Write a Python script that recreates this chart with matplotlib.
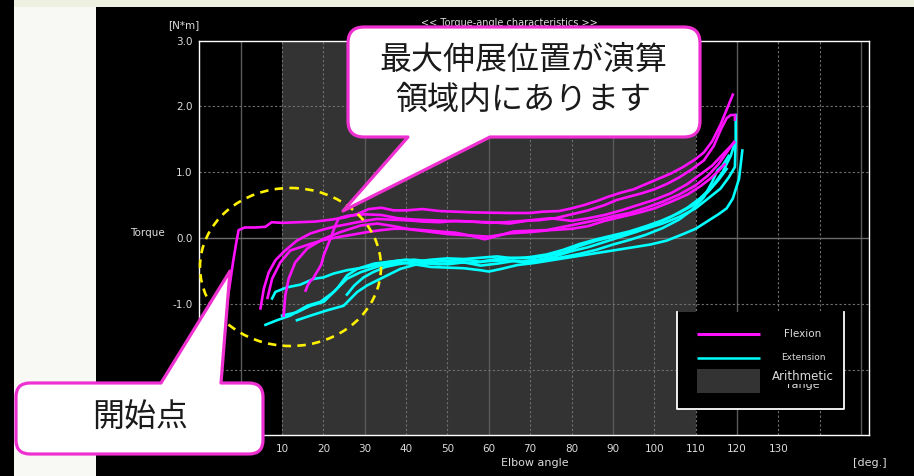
import matplotlib
matplotlib.use("Agg")
import matplotlib.pyplot as plt
from matplotlib.path import Path
from matplotlib.patches import PathPatch, Rectangle, Ellipse

# elbow angle [deg] / torque [N*m], flexion sweeps
flexion_deg = [
    [-3.5, -2.6, -1.8, -1.0, -0.5, 1.0, 3.5, 6.0, 7.5, 10, 14, 18, 22, 25, 28, 31, 34, 37, 40, 44,
     48, 52, 56, 60, 65, 70, 73, 77, 80, 83, 86, 89, 92, 95, 98, 101, 104, 107, 110, 112, 114,
     116, 117.5, 119],
    [4.8, 5.2, 5.6, 6.8, 8.4, 10.4, 13.6, 16.9, 20, 22.5, 25, 28.2, 31, 33, 36, 40, 44, 48, 52,
     56, 60, 64, 68, 72, 76, 80, 84, 88, 91, 94, 97, 100, 103, 106, 109, 112, 114.4, 116.1,
     117.5, 118.5, 119.6, 119.5],
    [6.5, 7.6, 9.6, 12, 16.9, 20, 24.1, 27, 30.6, 34, 37, 40, 44, 48, 52, 56, 59, 62, 66, 70, 74,
     78, 82, 86, 90, 94, 98, 102, 106, 110, 113, 115.5, 117.5, 119.3],
    [10.4, 10.8, 11.6, 13.2, 16.1, 20.1, 24.1, 29, 33, 37, 41, 45, 50, 55, 60, 65, 70, 75, 80, 84,
     88, 92, 96, 100, 104, 108, 111, 113.5, 115.5, 117],
    [15.7, 16.2, 16.9, 17.5, 18.3, 18.9, 19.5, 20.1, 21.7, 22.9, 23.7, 26, 30, 34, 38, 42, 46, 50,
     55, 60, 65, 70, 75, 80, 84, 88, 92, 96, 100, 104, 108, 111, 114, 117, 119.3],
]
flexion_nm = [
    [-1.05, -0.7, -0.35, -0.05, 0.12, 0.16, 0.16, 0.17, 0.24, 0.23, 0.24, 0.25, 0.28, 0.31, 0.36,
     0.44, 0.46, 0.42, 0.42, 0.44, 0.41, 0.40, 0.39, 0.385, 0.38, 0.38, 0.40, 0.41, 0.45, 0.50,
     0.56, 0.63, 0.69, 0.74, 0.82, 0.90, 0.98, 1.08, 1.20, 1.30, 1.47, 1.72, 1.95, 2.18],
    [-1.07, -0.92, -0.77, -0.52, -0.34, -0.21, -0.04, 0.07, 0.13, 0.17, 0.20, 0.24, 0.27, 0.29,
     0.28, 0.27, 0.25, 0.24, 0.26, 0.25, 0.23, 0.24, 0.26, 0.27, 0.30, 0.36, 0.42, 0.50, 0.58,
     0.63, 0.68, 0.74, 0.82, 0.92, 1.04, 1.18, 1.40, 1.65, 1.82, 1.87, 1.87, 1.80],
    [-0.91, -0.62, -0.37, -0.19, -0.09, -0.03, 0.02, 0.05, 0.09, 0.12, 0.14, 0.14, 0.12, 0.10,
     0.08, 0.03, -0.02, 0.03, 0.10, 0.11, 0.12, 0.17, 0.22, 0.27, 0.33, 0.38, 0.46, 0.55, 0.66,
     0.80, 0.95, 1.12, 1.30, 1.46],
    [-1.18, -0.87, -0.62, -0.37, -0.16, -0.01, 0.09, 0.19, 0.22, 0.18, 0.13, 0.10, 0.06, 0.04,
     0.02, 0.07, 0.09, 0.12, 0.14, 0.18, 0.26, 0.32, 0.38, 0.45, 0.55, 0.66, 0.78, 0.90, 1.02,
     1.12],
    [-0.80, -0.72, -0.65, -0.62, -0.53, -0.47, -0.40, -0.26, -0.01, 0.19, 0.30, 0.34, 0.36, 0.35,
     0.30, 0.28, 0.27, 0.26, 0.25, 0.24, 0.22, 0.27, 0.30, 0.26, 0.30, 0.35, 0.42, 0.50, 0.58,
     0.68, 0.82, 0.96, 1.10, 1.30, 1.45],
]

# extension sweeps
extension_deg = [
    [7.6, 8.4, 11.2, 14.4, 17.7, 20, 22.5, 25.7, 30.6, 35.4, 38.6, 42, 46, 50, 54, 58, 62, 66, 70,
     74, 78, 82, 86, 90, 94, 98, 102, 106, 110, 113, 116, 118, 119.5, 119.7, 119.7],
    [6.0, 8.8, 12.0, 16.1, 19.3, 22.5, 25.7, 29, 33.8, 38.6, 42, 46, 50, 54, 58, 60, 63, 67, 71,
     75, 79, 83, 87, 91, 95, 99, 103, 107, 110, 113, 115.5, 117.5, 119, 120.5, 121.3],
    [10.0, 13.6, 16.9, 20.1, 23.3, 25.7, 28.2, 32.2, 36, 40, 44, 48, 52, 56, 60, 64, 68, 72, 76,
     80, 84, 88, 92, 96, 100, 104, 108, 111, 114, 116.5, 118.5, 119.5],
    [13.6, 16.9, 20.9, 24.9, 28.2, 30.6, 33.8, 38.6, 42, 46, 50, 54, 58, 62, 66, 70, 74, 78, 82,
     86, 90, 94, 98, 102, 106, 109, 112, 114, 115.3, 116.5, 118],
    [25.7, 27.5, 29.7, 32, 35, 38, 42, 46, 50, 54, 58, 62, 66, 70, 74, 78, 82, 86, 90, 94, 98, 102,
     106, 110, 113, 115.5, 117.5],
]
extension_nm = [
    [-0.92, -0.82, -0.75, -0.71, -0.62, -0.60, -0.54, -0.49, -0.44, -0.37, -0.34, -0.33, -0.36,
     -0.35, -0.33, -0.36, -0.32, -0.30, -0.31, -0.27, -0.22, -0.12, -0.04, 0.02, 0.08, 0.14, 0.22,
     0.32, 0.45, 0.60, 0.75, 0.92, 1.08, 1.50, 1.87],
    [-1.32, -1.25, -1.18, -1.03, -0.97, -0.82, -0.62, -0.52, -0.42, -0.37, -0.40, -0.44, -0.45,
     -0.46, -0.49, -0.51, -0.47, -0.41, -0.38, -0.34, -0.30, -0.26, -0.22, -0.18, -0.14, -0.10,
     -0.04, 0.06, 0.14, 0.26, 0.36, 0.45, 0.60, 0.90, 1.33],
    [-1.18, -1.13, -1.03, -0.97, -0.77, -0.57, -0.47, -0.39, -0.36, -0.33, -0.38, -0.40, -0.37,
     -0.38, -0.35, -0.34, -0.36, -0.33, -0.28, -0.20, -0.14, -0.06, 0.02, 0.10, 0.20, 0.32, 0.46,
     0.60, 0.78, 1.00, 1.25, 1.45],
    [-1.25, -1.18, -1.10, -1.03, -0.82, -0.72, -0.62, -0.47, -0.41, -0.38, -0.40, -0.37, -0.42,
     -0.39, -0.35, -0.37, -0.33, -0.29, -0.24, -0.18, -0.10, -0.03, 0.05, 0.15, 0.28, 0.42, 0.62,
     0.85, 1.03, 1.10, 1.25],
    [-0.86, -0.72, -0.60, -0.52, -0.44, -0.40, -0.36, -0.33, -0.31, -0.32, -0.30, -0.28, -0.31,
     -0.29, -0.25, -0.18, -0.09, -0.02, 0.04, 0.10, 0.18, 0.27, 0.38, 0.52, 0.70, 0.88, 1.05],
]

calc_range = (10, 110)
x_ticks = list(range(-10, 151, 10))
x_labels = [str(v) if 10 <= v <= 130 else "" for v in x_ticks]
y_ticks = [-3.0, -2.0, -1.0, 0.0, 1.0, 2.0, 3.0]
y_labels = ["", "", "-1.0", "0.0", "1.0", "2.0", "3.0"]

FLEX = "#ff10ff"
EXT = "#00ffff"
RANGE = "#333333"
PINK = "#ee30d0"
UI_FONT = ["Liberation Sans Narrow", "DejaVu Sans"]
JP_FONT = ["Noto Sans CJK JP", "DejaVu Sans"]
TXT = "#dcdcdc"

W, H = 914, 476
fig = plt.figure(figsize=(W / 100, H / 100), dpi=100, facecolor="black")

# page behind the chart window
bg = fig.add_axes([0, 0, 1, 1])
bg.set_xlim(0, W)
bg.set_ylim(H, 0)
bg.axis("off")
bg.add_patch(Rectangle((14, 0), W - 14, 7, color="#eef0e0", lw=0))
bg.add_patch(Rectangle((14, 7), 82, H - 7, color="#f8f8f5", lw=0))
bg.add_patch(Rectangle((96, 7), W - 96, H - 7, color="black", lw=0))

ax = fig.add_axes([199.3 / W, 1 - 435.3 / H, 670 / W, 394.6 / H])
ax.set_facecolor("black")
ax.set_xlim(-10, 152)
ax.set_ylim(-3, 3)
ax.axvspan(*calc_range, color=RANGE, lw=0, zorder=0)

for v in x_ticks:
    if v % 30 == 0:
        ax.axvline(v, color="#5a5a5a", lw=1.0, zorder=1)
    else:
        ax.axvline(v, color="#707070", lw=0.8, ls=(0, (2, 2)), zorder=1)
for v in y_ticks[1:-1]:
    if v == 0:
        ax.axhline(v, color="#6a6a6a", lw=1.0, zorder=1)
    else:
        ax.axhline(v, color="#707070", lw=0.8, ls=(0, (2, 2)), zorder=1)

for d, t in zip(extension_deg, extension_nm):
    ax.plot(d, t, color=EXT, lw=1.9, zorder=3, solid_joinstyle="round")
for d, t in zip(flexion_deg, flexion_nm):
    ax.plot(d, t, color=FLEX, lw=1.9, zorder=4, solid_joinstyle="round")

ax.set_xticks(x_ticks)
ax.set_xticklabels(x_labels)
ax.set_yticks(y_ticks)
ax.set_yticklabels(y_labels)
ax.tick_params(length=0, colors=TXT, labelsize=7.5)
ax.tick_params(axis="x", pad=6)
ax.tick_params(axis="y", pad=5)
for lab in ax.get_xticklabels() + ax.get_yticklabels():
    lab.set_family(UI_FONT)
for s in ax.spines.values():
    s.set_color("white")
    s.set_linewidth(1.0)

# annotation layer in pixel coordinates
ov = fig.add_axes([0, 0, 1, 1])
ov.set_xlim(0, W)
ov.set_ylim(H, 0)
ov.axis("off")
ov.patch.set_visible(False)

ov.text(509, 23, "<< Torque-angle characteristics >>", color=TXT, fontsize=7,
        ha="center", va="center", family=UI_FONT)
ov.text(184, 25, "[N*m]", color=TXT, fontsize=7.5, ha="center", va="center", family=UI_FONT)
ov.text(147, 233, "Torque", color=TXT, fontsize=7.5, ha="center", va="center", family=UI_FONT)
ov.text(535, 463, "Elbow angle", color=TXT, fontsize=8, ha="center", va="center", family=UI_FONT)
ov.text(870, 463, "[deg.]", color=TXT, fontsize=8, ha="center", va="center", family=UI_FONT)

# legend panel
ov.add_patch(Rectangle((677, 312), 167, 96.5, fc="black", ec="none", zorder=5))
ov.plot([677, 677, 844, 844], [312, 408.5, 408.5, 312], color="white", lw=1.3, zorder=6)
ov.plot([697, 760], [334, 334], color=FLEX, lw=2.2, solid_capstyle="butt", zorder=6)
ov.plot([697, 760], [358, 358], color=EXT, lw=1.8, solid_capstyle="butt", zorder=6)
ov.add_patch(Rectangle((697, 369), 63, 23.5, fc=RANGE, ec="none", zorder=6))
ov.text(803, 334, "Flexion", color=TXT, fontsize=7.5, ha="center", va="center",
        family=UI_FONT, zorder=7)
ov.text(803, 358, "Extension", color=TXT, fontsize=6.5, ha="center", va="center",
        family=UI_FONT, zorder=7)
ov.text(803, 385, "range", color=TXT, fontsize=8, ha="center", va="center",
        family=UI_FONT, zorder=7)
ov.text(803, 377, "Arithmetic", color=TXT, fontsize=8.5, ha="center", va="center",
        family=UI_FONT, zorder=8,
        bbox=dict(fc="black", ec="none", pad=0.6))

ov.add_patch(Ellipse((290.5, 267), 181, 158, fill=False, ec="#fff200", lw=1.9,
                     ls=(0, (3.2, 2.4)), zorder=9))


def callout_path(x0, y0, x1, y1, r, pointer, side):
    verts, codes = [], []

    def line(p):
        verts.append(p)
        codes.append(Path.LINETO)

    def corner(c, p):
        verts.extend([c, p])
        codes.extend([Path.CURVE3, Path.CURVE3])

    verts.append((x0 + r, y0))
    codes.append(Path.MOVETO)
    if side == "top":
        for p in pointer:
            line(p)
    line((x1 - r, y0))
    corner((x1, y0), (x1, y0 + r))
    line((x1, y1 - r))
    corner((x1, y1), (x1 - r, y1))
    if side == "bottom":
        for p in pointer:
            line(p)
    line((x0 + r, y1))
    corner((x0, y1), (x0, y1 - r))
    line((x0, y0 + r))
    corner((x0, y0), (x0 + r, y0))
    verts.append((x0 + r, y0))
    codes.append(Path.CLOSEPOLY)
    return Path(verts, codes)


top_box = callout_path(348, 27, 700, 137, 16, [(490, 137), (343, 211), (408, 137)], "bottom")
ov.add_patch(PathPatch(top_box, fc="white", ec=PINK, lw=2.3, joinstyle="round", zorder=10))
ov.text(523, 60, "最大伸展位置が演算", fontsize=23, color="#1a1a1a", ha="center",
        va="center", family=JP_FONT, zorder=11)
ov.text(523, 100, "領域内にあります", fontsize=23, color="#1a1a1a", ha="center",
        va="center", family=JP_FONT, zorder=11)

start_box = callout_path(16, 383, 263, 454, 14, [(161, 383), (230, 271), (221, 383)], "top")
ov.add_patch(PathPatch(start_box, fc="white", ec=PINK, lw=2.3, joinstyle="round", zorder=10))
ov.text(140, 417, "開始点", fontsize=23, color="#1a1a1a", ha="center", va="center",
        family=JP_FONT, zorder=11)

fig.savefig("out.png", dpi=100, facecolor=fig.get_facecolor())
